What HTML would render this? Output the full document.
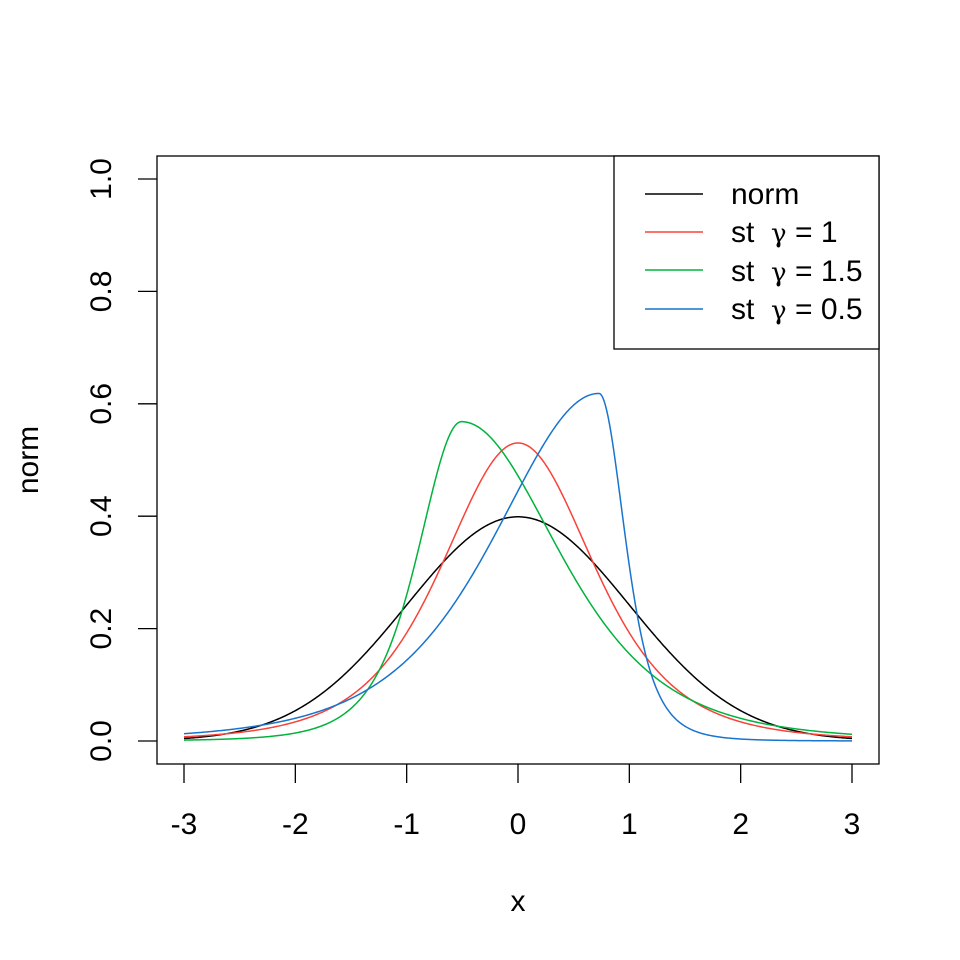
<!DOCTYPE html><html><head><style>body{margin:0;background:#fff}svg{display:block}text{font-family:"Liberation Sans",sans-serif;font-size:30px;fill:#000}.g{font-family:"DejaVu Serif","Liberation Serif",serif;font-size:26px}</style></head><body>
<svg id="s" width="960" height="960" xmlns="http://www.w3.org/2000/svg">
<rect x="157" y="156" width="722" height="608" fill="none" stroke="#000" stroke-width="1.3"/>
<g id="ax" stroke="#000" stroke-width="1.3" fill="none"></g>
<g id="lab"></g>
<text x="518" y="911" text-anchor="middle">x</text>
<text transform="translate(38,460) rotate(-90)" text-anchor="middle">norm</text>
<rect x="614" y="156" width="265" height="193" fill="#fff" stroke="#000" stroke-width="1.3"/>
<line x1="645" x2="703" y1="194" y2="194" stroke="#000" stroke-width="1.5"/>
<line x1="645" x2="703" y1="232" y2="232" stroke="#F8433A" stroke-width="1.5"/>
<line x1="645" x2="703" y1="270" y2="270" stroke="#00B33C" stroke-width="1.5"/>
<line x1="645" x2="703" y1="309" y2="309" stroke="#1874CD" stroke-width="1.5"/>
<text x="731" y="204">norm</text>
<text x="731" y="242">st</text><text class="g" x="771" y="242">γ</text><text x="795" y="242">= 1</text>
<text x="731" y="281">st</text><text class="g" x="771" y="281">γ</text><text x="795" y="281">= 1.5</text>
<text x="731" y="319">st</text><text class="g" x="771" y="319">γ</text><text x="795" y="319">= 0.5</text>
</svg>
<script>
var s=document.getElementById('s'),ax=document.getElementById('ax'),lab=document.getElementById('lab'),NS='http://www.w3.org/2000/svg';
function X(x){return 518+x*111.333}function Y(y){return 741-y*562}
function el(p,t,a,txt){var e=document.createElementNS(NS,t);for(var k in a)e.setAttribute(k,a[k]);if(txt)e.textContent=txt;p.appendChild(e);return e}
var ap='';for(var i=-3;i<=3;i++){ap+='M'+X(i)+',764V783';el(lab,'text',{x:X(i),y:834,'text-anchor':'middle'},''+i)}
for(var j=0;j<=5;j++){var v=j*0.2;ap+='M138,'+Y(v)+'H157';el(lab,'text',{transform:'translate(111,'+Y(v)+') rotate(-90)','text-anchor':'middle'},v.toFixed(1))}
el(ax,'path',{d:ap});
function dstd(x){return 0.53033*Math.pow(1+x*x/2,-2.5)}
var m1=2*Math.SQRT2/3/(4/3);
function sstd(x,xi){var mu=m1*(xi-1/xi),sg=Math.sqrt((1-m1*m1)*(xi*xi+1/(xi*xi))+2*m1*m1-1),z=x*sg+mu,Xi=z>=0?xi:1/xi;return 2/(xi+1/xi)*dstd(z/Xi)*sg}
function norm(x){return Math.exp(-x*x/2)/Math.sqrt(2*Math.PI)}
function path(f,c){var p='';for(var i=0;i<=600;i++){var x=-3+i*0.01;p+=(i?'L':'M')+X(x).toFixed(2)+','+Y(f(x)).toFixed(2)}el(s,'path',{d:p,fill:'none',stroke:c,'stroke-width':1.5});}
path(norm,'#000');path(function(x){return sstd(x,1)},'#F8433A');path(function(x){return sstd(x,1.5)},'#00B33C');path(function(x){return sstd(x,0.5)},'#1874CD');
</script></body></html>
